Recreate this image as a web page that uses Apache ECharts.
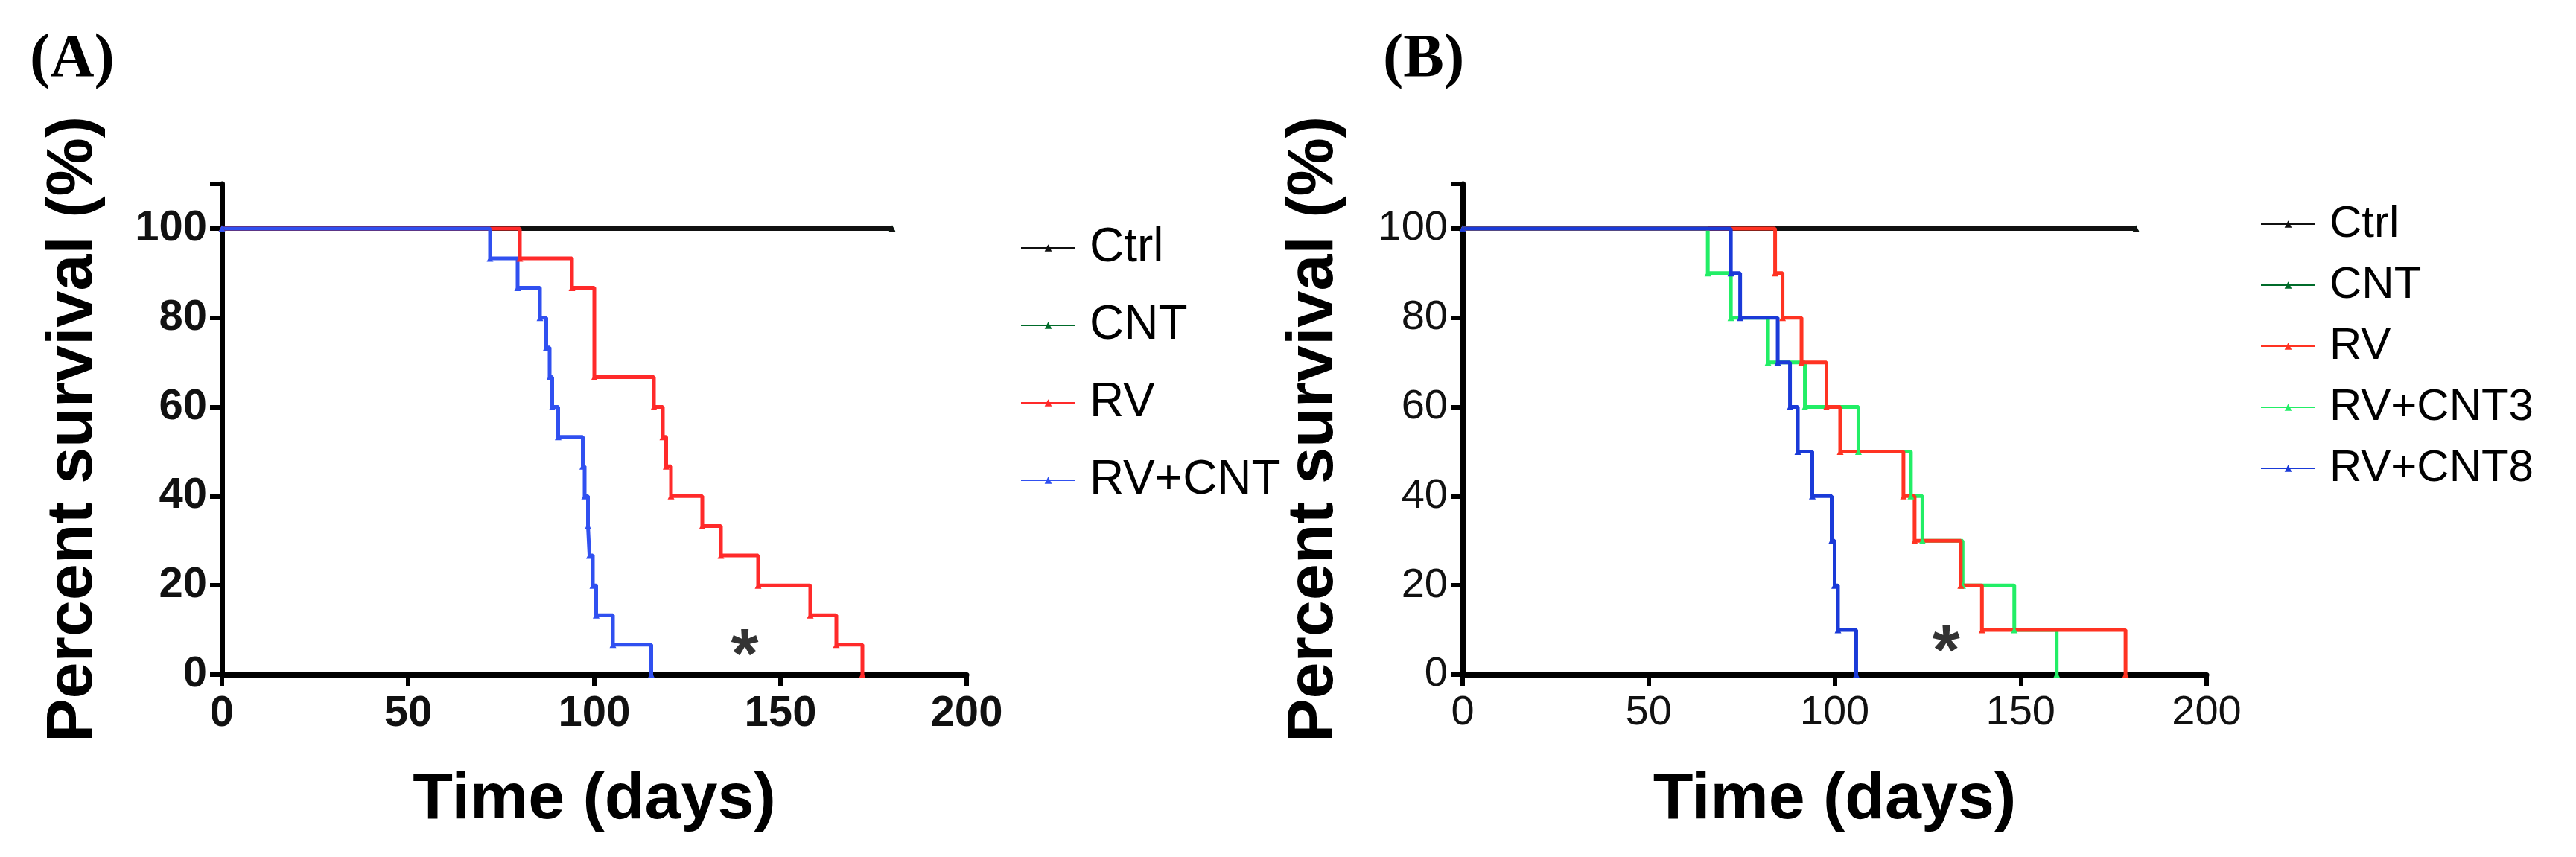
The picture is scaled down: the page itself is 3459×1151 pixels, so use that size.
<!DOCTYPE html>
<html>
<head>
<meta charset="utf-8">
<script src="https://cdn.jsdelivr.net/npm/echarts@6/dist/echarts.min.js"></script>
<style>
  html, body { margin: 0; padding: 0; background: #fff; }
  #chart { width: 3459px; height: 1151px; }
</style>
</head>
<body>
<div id="chart"></div>
<script>
// survival data (days, percent)
const xTicks = [0, 50, 100, 150, 200];
const yTicks = [0, 20, 40, 60, 80, 100];

const ctrlA = [[0, 100], [180, 100]];
const cntA = [[0, 100], [180, 100]];
const rvA = [[0, 100], [80, 93.3], [94, 86.7], [100, 66.7], [116, 60], [118.4, 53.3], [119.3, 46.7], [120.6, 40],
  [129, 33.3], [134, 26.7], [144, 20], [158, 13.3], [165, 6.7], [172, 0]];
const rvCntA = [[0, 100], [72, 93.3], [79.4, 86.7], [85.4, 80], [87.1, 73.3], [88, 66.7], [88.7, 60], [90.3, 53.3],
  [96.9, 46.7], [97.4, 40], [98.3, 33.3], [98.7, 26.7], [99.6, 20], [100.5, 13.3], [105, 6.7], [115.3, 0]];

const ctrlB = [[0, 100], [181, 100]];
const cntB = [[0, 100], [181, 100]];
const rvB = [[0, 100], [84, 90], [86, 80], [91.1, 70], [97.8, 60], [101.5, 50], [118.5, 40], [121.5, 30],
  [133.9, 20], [139.6, 10], [178.2, 0]];
const rvCnt3B = [[0, 100], [65.9, 90], [72.1, 80], [82.1, 70], [92, 60], [106.4, 50], [120.5, 40], [123.6, 30],
  [134.4, 20], [148.3, 10], [159.7, 0]];
const rvCnt8B = [[0, 100], [72.1, 90], [74.6, 80], [84.7, 70], [88, 60], [90.1, 50], [94, 40], [99.2, 30],
  [100, 20], [100.9, 10], [105.8, 0]];

const starA = [[140.4, 7]];
const starB = [[130, 7.8]];

const chart = echarts.init(document.getElementById('chart'));

function xAxis(idx, size, weight) {
  return {
    type: 'value', gridIndex: idx, min: 0, max: 200, interval: 50,
    name: 'Time (days)', nameLocation: 'middle', nameGap: 125,
    nameTextStyle: { fontFamily: 'Liberation Sans', fontWeight: 'bold', fontSize: 88, color: '#000' },
    axisLine: { lineStyle: { color: '#000', width: 7 } },
    axisTick: { length: 16, lineStyle: { color: '#000', width: 6 } },
    axisLabel: { fontFamily: 'Liberation Sans', fontSize: size, fontWeight: weight, color: '#111', margin: 24 },
    splitLine: { show: false }
  };
}
function yAxis(idx, size, weight) {
  return {
    type: 'value', gridIndex: idx, min: 0, max: 110, interval: 20,
    name: 'Percent survival (%)', nameLocation: 'middle', nameGap: 155, nameRotate: 90,
    nameTextStyle: { fontFamily: 'Liberation Sans', fontWeight: 'bold', fontSize: 88, color: '#000' },
    axisLine: { lineStyle: { color: '#000', width: 7 } },
    axisTick: { length: 16, lineStyle: { color: '#000', width: 6 } },
    axisLabel: {
      fontFamily: 'Liberation Sans', fontSize: size, fontWeight: weight, color: '#111', margin: 20,
      formatter: v => (yTicks.includes(v) ? String(v) : '')
    },
    splitLine: { show: false }
  };
}

function km(name, data, color, idx, width) {
  return {
    name: name, type: 'line', step: 'end', data: data,
    xAxisIndex: idx, yAxisIndex: idx,
    symbol: 'triangle', symbolSize: 9, showSymbol: true,
    lineStyle: { color: color, width: width || 5 },
    itemStyle: { color: color },
    animation: false
  };
}
function star(data, idx) {
  return {
    type: 'scatter', data: data, xAxisIndex: idx, yAxisIndex: idx, symbolSize: 0,
    label: { show: true, formatter: '*', position: 'inside', fontSize: 95, fontWeight: 'bold', color: '#000', offset: [0, 20] },
    silent: true, animation: false
  };
}

const legendText = size => ({ fontFamily: 'Liberation Sans', fontSize: size, color: '#000', padding: [0, 0, 0, 14] });

chart.setOption({
  backgroundColor: '#fff',
  grid: [
    { left: 298, top: 247, width: 1000, height: 659 },
    { left: 1964, top: 247, width: 999, height: 659 }
  ],
  xAxis: [xAxis(0, 58, 'bold'), xAxis(1, 56, 'normal')],
  yAxis: [yAxis(0, 58, 'bold'), yAxis(1, 56, 'normal')],
  legend: [
    {
      left: 1365, top: 296, orient: 'vertical', itemWidth: 73, itemHeight: 12, itemGap: 40,
      textStyle: legendText(64),
      data: ['Ctrl', 'CNT', 'RV', 'RV+CNT']
    },
    {
      left: 3030, top: 266, orient: 'vertical', itemWidth: 73, itemHeight: 12, itemGap: 22,
      textStyle: legendText(60),
      data: ['Ctrl ', 'CNT ', 'RV ', 'RV+CNT3', 'RV+CNT8']
    }
  ],
  graphic: [
    { type: 'text', left: 40, top: 40, style: { text: '(A)', font: 'bold 82px "Liberation Serif"', fill: '#000' } },
    { type: 'text', left: 1857, top: 40, style: { text: '(B)', font: 'bold 82px "Liberation Serif"', fill: '#000' } }
  ],
  series: [
    km('CNT', cntA, '#006b2a', 0),
    km('Ctrl', ctrlA, '#111', 0, 6),
    km('RV', rvA, '#ff2a2a', 0),
    km('RV+CNT', rvCntA, '#3050f0', 0),
    star(starA, 0),
    km('CNT ', cntB, '#006b2a', 1),
    km('Ctrl ', ctrlB, '#111', 1, 6),
    km('RV+CNT3', rvCnt3B, '#22ee66', 1),
    km('RV ', rvB, '#ff3322', 1),
    km('RV+CNT8', rvCnt8B, '#1a3ad8', 1),
    star(starB, 1)
  ]
});
</script>
</body>
</html>
